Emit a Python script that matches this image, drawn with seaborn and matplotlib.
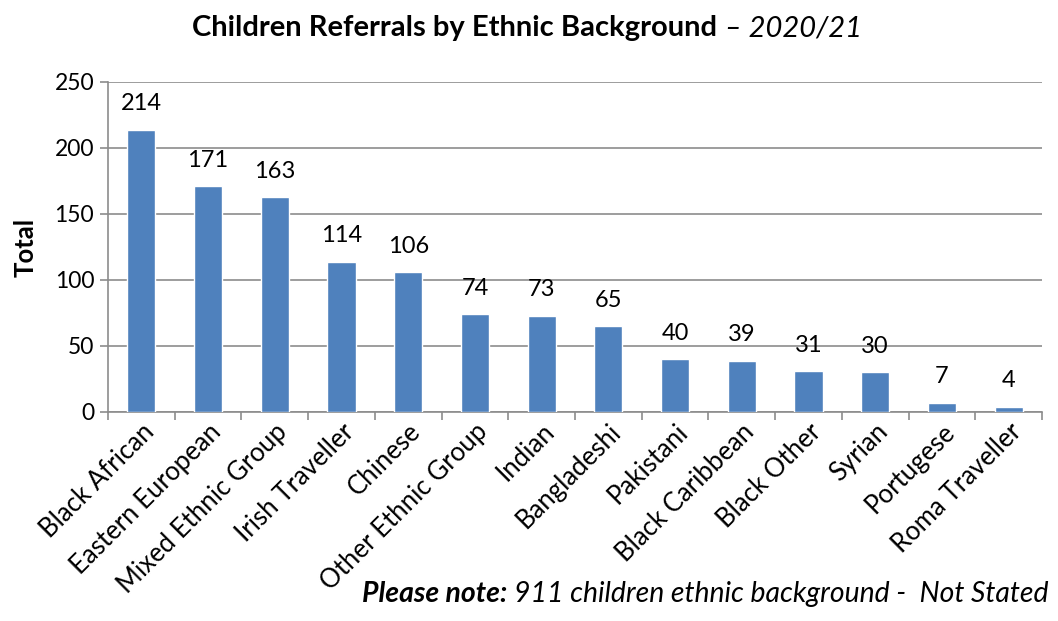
import matplotlib
matplotlib.use("Agg")
import matplotlib.pyplot as plt
import seaborn as sns
import pandas as pd
import numpy as np
from matplotlib.ticker import FixedLocator

categories = ["Black African", "Eastern European", "Mixed Ethnic Group", "Irish Traveller",
              "Chinese", "Other Ethnic Group", "Indian", "Bangladeshi", "Pakistani",
              "Black Caribbean", "Black Other", "Syrian", "Portugese", "Roma Traveller"]
totals = [214, 171, 163, 114, 106, 74, 73, 65, 40, 39, 31, 30, 7, 4]
yticks = [0, 50, 100, 150, 200, 250]

sns.set_theme(style="white")
FONT = ["Lato", "DejaVu Sans"]
plt.rcParams["font.family"] = FONT
plt.rcParams["text.color"] = "black"
plt.rcParams["axes.labelcolor"] = "black"
plt.rcParams["xtick.color"] = "black"
plt.rcParams["ytick.color"] = "black"

df = pd.DataFrame({"Ethnic Background": categories, "Total": totals})

fig = plt.figure(figsize=(10.58, 6.21), dpi=100)
ax = fig.add_axes([108/1058, 1-412/621, (1042-108)/1058, (412-82)/621])

sns.barplot(data=df, x="Ethnic Background", y="Total", color="#4F81BD", width=0.42,
            saturation=1, ax=ax, zorder=3)

ax.set_ylim(0, 250)
ax.set_xlim(-0.5, len(categories) - 0.5)
ax.set_yticks(yticks)
ax.yaxis.grid(True, color="#8c8c8c", linewidth=1.2, zorder=0)
ax.set_axisbelow(True)

for s in ["top", "right"]:
    ax.spines[s].set_visible(False)
for s in ["left", "bottom"]:
    ax.spines[s].set_color("#8c8c8c")
    ax.spines[s].set_linewidth(1.2)

ax.tick_params(axis="y", which="major", length=6, width=1.2, color="#8c8c8c",
               direction="out", left=True, labelsize=16.5, pad=4, labelcolor="black")
ax.tick_params(axis="x", which="major", length=0, labelsize=18.5, pad=5, labelcolor="black")
ax.xaxis.set_minor_locator(FixedLocator(np.arange(-0.5, len(categories), 1.0)))
ax.tick_params(axis="x", which="minor", length=6, width=1.2, color="#8c8c8c",
               direction="out", bottom=True)

ax.set_xticks(range(len(categories)))
ax.set_xticklabels(categories, rotation=45, ha="right", rotation_mode="anchor")

ax.set_xlabel("")
ax.set_ylabel("Total", fontsize=18.5, fontweight="bold", labelpad=12, color="black")

for i, v in enumerate(totals):
    ax.annotate(str(v), (i, v), xytext=(0, 11), textcoords="offset points",
                ha="center", va="bottom", fontsize=17, color="black")

# Title in two styles
fig.canvas.draw()
r = fig.canvas.get_renderer()
t1 = fig.text(0, 1 - 28/621, "Children Referrals by Ethnic Background", fontsize=21,
              fontweight="bold", va="center", ha="left")
t2 = fig.text(0, 1 - 28/621, " \u2013 2020/21", fontsize=21, fontstyle="italic",
              va="center", ha="left")
w1 = t1.get_window_extent(r).width
w2 = t2.get_window_extent(r).width
x0 = (527 - (w1 + w2) / 2)
t1.set_x(x0 / 1058)
t2.set_x((x0 + w1) / 1058)

# Note in two styles
n2 = fig.text(1048/1058, 1 - 594/621, "911 children ethnic background -  Not Stated",
              fontsize=20.4, fontstyle="italic", ha="right", va="center")
wn2 = n2.get_window_extent(r).width
n1 = fig.text((1048 - wn2) / 1058, 1 - 594/621, "Please note: ", fontsize=20.4,
              fontstyle="italic", fontweight="bold", ha="right", va="center")

fig.savefig("out.png", dpi=100)
